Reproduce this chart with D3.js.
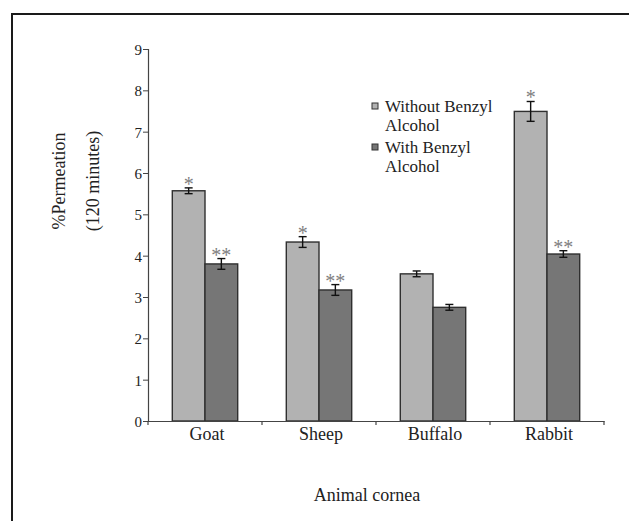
<!DOCTYPE html>
<html><head><meta charset="utf-8">
<script src="https://cdn.jsdelivr.net/npm/d3@7"></script>
<style>
html,body{margin:0;padding:0;background:#fff;}
text{font-family:"Liberation Serif","Times New Roman",serif;}
</style></head>
<body>
<svg id="chart" width="629" height="521"></svg>
<script>
const categories = ["Goat", "Sheep", "Buffalo", "Rabbit"];
const seriesNames = ["Without Benzyl Alcohol", "With Benzyl Alcohol"];
const withoutBA = [5.57, 4.33, 3.56, 7.49];
const withBA = [3.80, 3.17, 2.75, 4.04];
const withoutBAErr = [0.07, 0.13, 0.07, 0.24];
const withBAErr = [0.13, 0.13, 0.07, 0.08];
const withoutBAMark = ["*", "*", "", "*"];
const withBAMark = ["**", "**", "", "**"];
const yTicks = [0,1,2,3,4,5,6,7,8,9];
const legendLines = [["Without Benzyl", "Alcohol"], ["With Benzyl", "Alcohol"]];
const colors = ["#b2b2b2", "#767676"];

const svg = d3.select("#chart");
// frame
svg.append("path").attr("d","M12,521 L12,14 L640,14").attr("fill","none").attr("stroke","#1a1a1a").attr("stroke-width",2);

const mLeft = 148, mRight = 604, mTop = 49, mBottom = 421;
const x = d3.scaleBand().domain(categories).range([mLeft, mRight]).padding(0);
const x1 = d3.scaleBand().domain(seriesNames).range([0, x.bandwidth()]).paddingInner(0).paddingOuter(0.743);
const y = d3.scaleLinear().domain([0, 9]).range([mBottom, mTop]);

const data = categories.map((c, i) => [
  {cat: c, s: seriesNames[0], v: withoutBA[i], e: withoutBAErr[i], m: withoutBAMark[i], col: colors[0]},
  {cat: c, s: seriesNames[1], v: withBA[i], e: withBAErr[i], m: withBAMark[i], col: colors[1]}
]).flat();

// bars
svg.append("g").selectAll("rect").data(data).join("rect")
  .attr("x", d => x(d.cat) + x1(d.s))
  .attr("y", d => y(d.v))
  .attr("width", x1.bandwidth())
  .attr("height", d => y(0) - y(d.v))
  .attr("fill", d => d.col)
  .attr("stroke", "#2f2f2f").attr("stroke-width", 1.4);

// error bars
const eg = svg.append("g").attr("stroke", "#111").attr("stroke-width", 1.4);
data.forEach(d => {
  const cx = x(d.cat) + x1(d.s) + x1.bandwidth() / 2;
  eg.append("line").attr("x1", cx).attr("x2", cx).attr("y1", y(d.v + d.e)).attr("y2", y(d.v - d.e));
  eg.append("line").attr("x1", cx - 4).attr("x2", cx + 4).attr("y1", y(d.v + d.e)).attr("y2", y(d.v + d.e));
  eg.append("line").attr("x1", cx - 4).attr("x2", cx + 4).attr("y1", y(d.v - d.e)).attr("y2", y(d.v - d.e));
});

// significance marks
svg.append("g").selectAll("text").data(data.filter(d => d.m)).join("text")
  .attr("x", d => x(d.cat) + x1(d.s) + x1.bandwidth() / 2)
  .attr("y", d => y(d.v + d.e) + 3)
  .attr("text-anchor", "middle")
  .attr("font-size", 20).attr("fill", "#808080")
  .text(d => d.m);

// y axis
const yAxis = svg.append("g").attr("transform", `translate(${mLeft},0)`)
  .call(d3.axisLeft(y).tickValues(yTicks).tickSize(5).tickPadding(1).tickFormat(d3.format("d")));
yAxis.select(".domain").attr("stroke", "#444").attr("stroke-width", 1.2);
yAxis.selectAll(".tick line").attr("stroke", "#444");
yAxis.selectAll(".tick text").attr("font-size", 15).attr("fill", "#222")
  .attr("font-family", "Liberation Serif, serif").attr("dy", "0.36em");

// x axis
const xAxis = svg.append("g").attr("transform", `translate(0,${mBottom})`)
  .call(d3.axisBottom(x).tickSize(0).tickPadding(0).tickFormat(""));
xAxis.select(".domain").attr("stroke", "#444").attr("stroke-width", 1.2);
xAxis.selectAll(".tick").remove();
const bounds = categories.map(c => x(c)).concat([x.range()[1]]);
xAxis.selectAll("line.sep").data(bounds).join("line").attr("class", "sep")
  .attr("x1", d => d).attr("x2", d => d).attr("y1", 0).attr("y2", 4).attr("stroke", "#444").attr("stroke-width", 1.2);

svg.append("g").selectAll("text").data(categories).join("text")
  .attr("x", d => x(d) + x.bandwidth() / 2 + 2)
  .attr("y", 440)
  .attr("text-anchor", "middle").attr("font-size", 18).attr("fill", "#222")
  .text(d => d);

// axis titles
svg.append("text").attr("x", 367).attr("y", 501).attr("text-anchor", "middle")
  .attr("font-size", 18).attr("fill", "#222").text("Animal cornea");
svg.append("text").attr("transform", "translate(65,181) rotate(-90)").attr("text-anchor", "middle")
  .attr("font-size", 18).attr("fill", "#222").text("%Permeation");
svg.append("text").attr("transform", "translate(99,181) rotate(-90)").attr("text-anchor", "middle")
  .attr("font-size", 18).attr("fill", "#222").text("(120 minutes)");

// legend
const lg = svg.append("g");
legendLines.forEach((lines, i) => {
  const base = 112 + i * 41;
  lg.append("rect").attr("x", 372).attr("y", base - 9).attr("width", 6).attr("height", 6)
    .attr("fill", colors[i]).attr("stroke", "#333").attr("stroke-width", 1);
  const t = lg.append("text").attr("x", 385).attr("y", base).attr("font-size", 17).attr("fill", "#222");
  lines.forEach((s, j) => {
    t.append("tspan").attr("x", 385).attr("dy", j === 0 ? 0 : 19).text(s);
  });
});
</script>
</body></html>
